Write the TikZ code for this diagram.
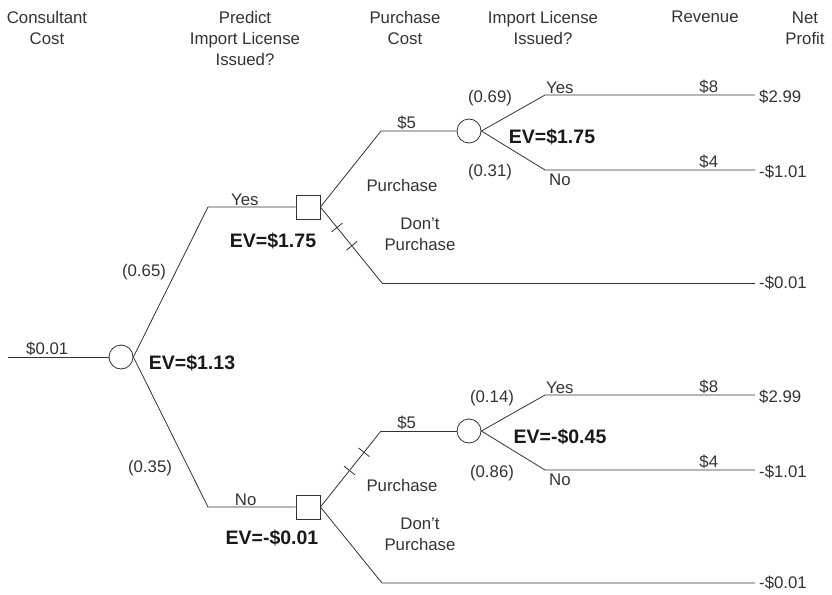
\documentclass[tikz,border=0pt]{standalone}
\usepackage{fontspec}
\setmainfont{Liberation Sans}
\usetikzlibrary{positioning,decorations.markings}

\tikzset{hashed/.style={postaction={decorate},decoration={markings,
    mark=at position #1 with {\draw[black!80,line width=0.8pt] (0,-7) -- (0,7);},
    mark=at position #1+0.24 with {\draw[black!80,line width=0.8pt] (0,-7) -- (0,7);}}}}

\begin{document}
\begin{tikzpicture}[x=1pt,y=-1pt]
        \tikzstyle{every node}=[font=\fontsize{16.8}{21}\selectfont,text=black!80,inner sep=1pt,align=center]
        \tikzstyle{branch}=[draw=black!80,line width=0.8pt]
        \tikzstyle{chance}=[draw=black!80,line width=0.8pt,circle,minimum size=24pt,inner sep=0pt]
        \tikzstyle{decision}=[draw=black!80,line width=0.8pt,rectangle,minimum size=24pt,inner sep=0pt]
        \tikzstyle{ev}=[font=\fontsize{19.5}{22}\selectfont\bfseries,text=black!90]
        \tikzstyle{payoff}=[anchor=west,inner sep=4pt]
        \tikzstyle{under}=[anchor=north west,inner sep=4pt]
        \useasboundingbox (0,0) rectangle (832,594);

        % column headers
        \node (hconsult) at (47,28) {Consultant\\Cost};
        \node (hpredict) at (245,38) {Predict\\Import License\\Issued?};
        \node (hpurchase) at (405,28) {Purchase\\Cost};
        \node (hlicense) at (543,28) {Import License\\Issued?};
        \node (hrevenue) at (705,17) {Revenue};
        \node (hprofit) at (805,28) {Net\\Profit};

        % consultant
        \coordinate (start) at (8,357);
        \node[chance] (root) at (121,357) {};
        \draw[branch] (start) -- node[pos=0.39,above] {\$0.01} (root);
        \node[ev] (evroot) at (192,363) {EV=\$1.13};

        % prediction: yes
        \coordinate (yesknee) at (208,207);
        \node[decision] (yesdec) at (308,207) {};
        \draw[branch] (root.east) -- (yesknee) -- node[pos=0.42,above] {Yes} (yesdec);
        \node (pyes) at (144,272) {(0.65)};
        \node[ev] (evyes) at (273,241) {EV=\$1.75};

        % prediction: no
        \coordinate (noknee) at (208,507);
        \node[decision] (nodec) at (308,507) {};
        \draw[branch] (root.east) -- (noknee) -- node[pos=0.43,above] {No} (nodec);
        \node (pno) at (150,468) {(0.35)};
        \node[ev] (evno) at (272,538) {EV=-\$0.01};

        % yes: purchase
        \coordinate (ypknee) at (381,131);
        \node[chance] (ypchance) at (469,131) {};
        \draw[branch] (yesdec.east) -- (ypknee) -- node[pos=0.34,above] {\$5} (ypchance);
        \node (ypurch) at (402,185) {Purchase};
        \node[ev] (evyp) at (552,137) {EV=\$1.75};

        % yes: don't purchase
        \coordinate (ydknee) at (382,283);
        \node[payoff] (ydend) at (755,283) {-\$0.01};
        \draw[branch,hashed=0.27] (yesdec.east) -- (ydknee);
        \draw[branch] (ydknee) -- (ydend.west);
        \node (ydont) at (420,234) {Don't\\Purchase};

        % yes: license issued
        \coordinate (yyknee) at (545,95);
        \node[payoff] (yyend) at (755,97) {\$2.99};
        \draw[branch] (ypchance.east) -- (yyknee) -- node[pos=0.78,above] {\$8} (yyknee -| yyend.west);
        \node[anchor=south west] at (yyknee) {Yes};
        \node (pyy) at (490,98) {(0.69)};

        % yes: license refused
        \coordinate (ynknee) at (545,170);
        \node[payoff] (ynend) at (755,172) {-\$1.01};
        \draw[branch] (ypchance.east) -- (ynknee) -- node[pos=0.78,above] {\$4} (ynknee -| ynend.west);
        \node[under] at (ynknee) {No};
        \node (pyn) at (490,172) {(0.31)};

        % no: purchase
        \coordinate (npknee) at (381,431);
        \node[chance] (npchance) at (469,431) {};
        \draw[branch,hashed=0.48] (nodec.east) -- (npknee);
        \draw[branch] (npknee) -- node[pos=0.34,above] {\$5} (npchance);
        \node (npurch) at (402,485) {Purchase};
        \node[ev] (evnp) at (560,437) {EV=-\$0.45};

        % no: don't purchase
        \coordinate (ndknee) at (382,583);
        \node[payoff] (ndend) at (755,583) {-\$0.01};
        \draw[branch] (nodec.east) -- (ndknee) -- (ndend.west);
        \node (ndont) at (420,534) {Don't\\Purchase};

        % no: license issued
        \coordinate (nyknee) at (545,395);
        \node[payoff] (nyend) at (755,397) {\$2.99};
        \draw[branch] (npchance.east) -- (nyknee) -- node[pos=0.78,above] {\$8} (nyknee -| nyend.west);
        \node[anchor=south west] at (nyknee) {Yes};
        \node (pny) at (492,398) {(0.14)};

        % no: license refused
        \coordinate (nnknee) at (545,470);
        \node[payoff] (nnend) at (755,472) {-\$1.01};
        \draw[branch] (npchance.east) -- (nnknee) -- node[pos=0.78,above] {\$4} (nnknee -| nnend.west);
        \node[under] at (nnknee) {No};
        \node (pnn) at (492,473) {(0.86)};

    \end{tikzpicture}
\end{document}
